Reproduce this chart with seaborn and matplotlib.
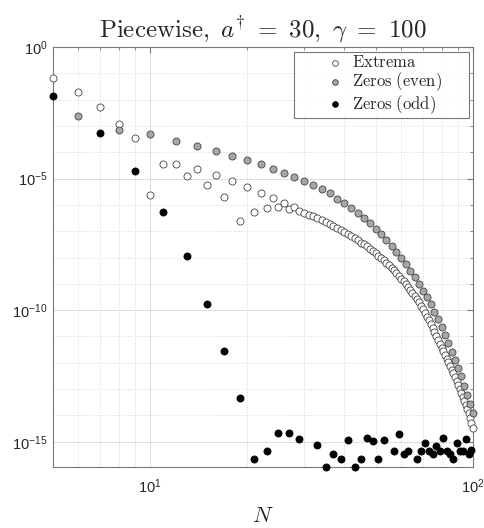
import numpy as np
import pandas as pd
import seaborn as sns
import matplotlib
matplotlib.use('Agg')
import matplotlib.pyplot as plt
from matplotlib.ticker import FixedLocator, NullFormatter

sns.set_style('white')
plt.rcParams['font.family'] = ['Liberation Sans', 'DejaVu Sans']
plt.rcParams['mathtext.fontset'] = 'cm'

# log10 of the error
extrema_n = list(range(5, 101))
extrema_log = [
    -1.165, -1.72, -2.265, -2.91, -3.45, -5.62, -4.43, -4.44, -4.90, -4.64,
    -5.26, -4.88, -5.69, -5.10, -6.60, -5.31, -6.27, -5.53, -6.10, -5.73,
    -6.08, -5.91, -6.16, -6.08, -6.24, -6.29, -6.38, -6.44, -6.50, -6.57,
    -6.64, -6.72, -6.80, -6.88, -6.95, -7.03, -7.11, -7.19, -7.27, -7.35,
    -7.43, -7.50, -7.58, -7.67, -7.75, -7.84, -7.93, -8.01, -8.10, -8.19,
    -8.29, -8.39, -8.49, -8.60, -8.70, -8.80, -8.91, -9.02, -9.13, -9.24,
    -9.35, -9.46, -9.57, -9.70, -9.84, -9.97, -10.11, -10.25, -10.39, -10.54,
    -10.68, -10.83, -10.98, -11.12, -11.27, -11.42, -11.56, -11.70, -11.84, -11.98,
    -12.12, -12.26, -12.40, -12.55, -12.70, -12.85, -13.00, -13.15, -13.30, -13.45,
    -13.60, -13.75, -13.92, -14.10, -14.28, -14.47,
]

even_n = list(range(6, 101, 2))
even_log = [
    -2.61, -3.15, -3.31, -3.57, -3.78, -3.97, -4.14, -4.30, -4.45, -4.62,
    -4.77, -4.93, -5.09, -5.24, -5.40, -5.56, -5.76, -5.93, -6.12, -6.31,
    -6.50, -6.70, -6.91, -7.12, -7.35, -7.56, -7.79, -8.02, -8.26, -8.50,
    -8.74, -9.01, -9.26, -9.51, -9.78, -10.07, -10.35, -10.65, -10.94, -11.25,
    -11.59, -11.89, -12.21, -12.52, -12.87, -13.21, -13.56, -13.92,
]

odd_n = [5, 7, 9, 11, 13, 15, 17, 19, 21, 23, 25, 27, 29, 33, 35, 37, 39, 41,
         43, 45, 47, 49, 51, 53, 57, 59, 61, 63, 67, 69, 71, 73, 75, 77, 79,
         81, 83, 85, 87, 89, 91, 93, 95, 97, 99]
odd_log = [
    -1.85, -3.25, -4.71, -6.27, -7.94, -9.75, -11.57, -13.33, -15.65, -15.35,
    -14.65, -14.68, -14.88, -15.11, -15.95, -15.48, -15.65, -14.95, -15.95, -15.65,
    -14.84, -14.99, -15.65, -14.95, -15.35, -14.71, -15.48, -15.35, -15.65, -15.35,
    -15.05, -15.35, -15.48, -15.18, -15.35, -14.87, -15.35, -15.48, -15.65, -15.05,
    -15.35, -15.35, -14.88, -15.48, -15.30,
]

df = pd.concat([
    pd.DataFrame({'N': extrema_n, 'err': np.power(10.0, extrema_log), 'kind': 'Extrema'}),
    pd.DataFrame({'N': even_n, 'err': np.power(10.0, even_log), 'kind': 'Zeros (even)'}),
    pd.DataFrame({'N': odd_n, 'err': np.power(10.0, odd_log), 'kind': 'Zeros (odd)'}),
])

styles = {
    'Extrema': ('white', '#444444', r'$\mathrm{Extrema}$'),
    'Zeros (even)': ('#a6a6a6', '#444444', r'$\mathrm{Zeros\ (even)}$'),
    'Zeros (odd)': ('black', 'black', r'$\mathrm{Zeros\ (odd)}$'),
}

fig = plt.figure(figsize=(4.84, 5.28), dpi=100)
ax = fig.add_axes([0.109, 0.116, 0.868, 0.795])

for kind, (face, edge, label) in styles.items():
    sns.scatterplot(
        data=df[df['kind'] == kind], x='N', y='err',
        color=face, edgecolor=edge, linewidth=0.6, s=26,
        label=label, ax=ax, clip_on=False, zorder=3,
    )

ax.set_xscale('log')
ax.set_yscale('log')
ax.set_xlim(5, 100)
ax.set_ylim(10 ** -15.95, 1)

ax.xaxis.set_major_locator(FixedLocator([10, 100]))
ax.xaxis.set_minor_locator(FixedLocator([5, 6, 7, 8, 9, 20, 30, 40, 50, 60, 70, 80, 90]))
ax.xaxis.set_minor_formatter(NullFormatter())
ax.yaxis.set_major_locator(FixedLocator([1e0, 1e-5, 1e-10, 1e-15]))
ax.yaxis.set_minor_locator(FixedLocator([10.0 ** -k for k in range(1, 16) if k % 5 != 0]))
ax.yaxis.set_minor_formatter(NullFormatter())

ax.grid(which='major', color='#dcdcdc', linestyle='-', linewidth=0.7)
ax.grid(which='minor', color='#d8d8d8', linestyle=':', linewidth=0.7)
ax.set_axisbelow(True)

for sp in ax.spines.values():
    sp.set_color('#777777')
    sp.set_linewidth(0.8)

ax.tick_params(which='both', direction='in', top=True, right=True,
               colors='#777777', labelcolor='#262626', labelsize=10.5)
ax.tick_params(which='major', length=4)
ax.tick_params(which='minor', length=2.5)
ax.tick_params(axis='x', pad=8)

ax.set_xlabel(r'$N$', fontsize=16, labelpad=7)
ax.set_ylabel('')
ax.set_title(r'$\mathrm{Piecewise,}\ a^{\dagger}\ =\ 30,\ \gamma\ =\ 100$',
             fontsize=18, pad=7)

leg = ax.legend(loc='upper left', bbox_to_anchor=(0.575, 0.989, 0.416, 0.0),
                mode='expand', fontsize=12, frameon=True, fancybox=False,
                borderaxespad=0.0, handletextpad=-1.3, labelspacing=0.0,
                borderpad=0.15, markerscale=0.8, handlelength=4.6)
leg.get_frame().set_edgecolor('#555555')
leg.get_frame().set_linewidth(0.8)

fig.savefig('out.png', dpi=100)
